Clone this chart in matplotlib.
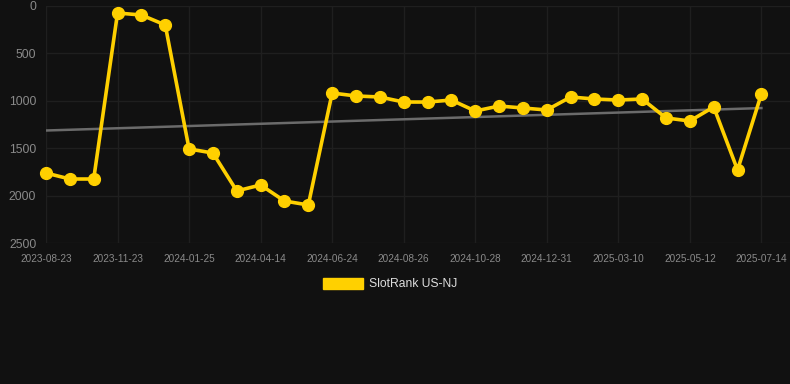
import numpy as np
import matplotlib.pyplot as plt
from matplotlib.patches import Patch

plt.rcParams["font.family"] = ["Liberation Sans", "DejaVu Sans"]

rank = [1762, 1825, 1825, 74, 95, 200, 1508, 1551, 1951, 1888, 2057, 2099,
        918, 949, 960, 1013, 1013, 992, 1108, 1055, 1076, 1097, 960, 981,
        992, 981, 1181, 1213, 1065, 1730, 928]
tick_labels = ["2023-08-23", "2023-11-23", "2024-01-25", "2024-04-14",
               "2024-06-24", "2024-08-26", "2024-10-28", "2024-12-31",
               "2025-03-10", "2025-05-12", "2025-07-14"]
series_name = "SlotRank US-NJ"

bg = "#111111"
gold = "#FFD000"

x = np.arange(len(rank))
y = np.array(rank)

fig = plt.figure(figsize=(7.9, 3.84), dpi=100, facecolor=bg)
ax = fig.add_axes([46 / 790, 1 - 243 / 384, 1 - 46 / 790, 237 / 384])
ax.set_facecolor(bg)

# linear trend
m, c = np.polyfit(x, y, 1)
ax.plot(x, m * x + c, color="#6b6b6b", lw=1.8, zorder=2)

ax.plot(x, y, color=gold, lw=2.6, marker="o", ms=8.5, zorder=3,
        clip_on=False)

ax.set_ylim(2500, 0)
ax.set_xlim(0, 31.2)
ax.set_yticks([0, 500, 1000, 1500, 2000, 2500])
ax.set_xticks(x[::3])
ax.set_xticklabels(tick_labels)

ax.grid(True, color="#1f1f1f", lw=1)
for s in ax.spines.values():
    s.set_visible(False)
ax.tick_params(axis="y", length=0, labelsize=8.7, labelcolor="#8a8a8a", pad=7)
ax.tick_params(axis="x", length=0, labelsize=7.2, labelcolor="#8a8a8a", pad=8)

handle = Patch(facecolor=gold, edgecolor=gold)
fig.legend([handle], [series_name], loc="center", bbox_to_anchor=(0.494, 0.26),
           frameon=False, fontsize=8.7, labelcolor="#dddddd",
           handlelength=3.3, handleheight=1.0, handletextpad=0.55)

fig.savefig("out.png", dpi=100, facecolor=bg)
